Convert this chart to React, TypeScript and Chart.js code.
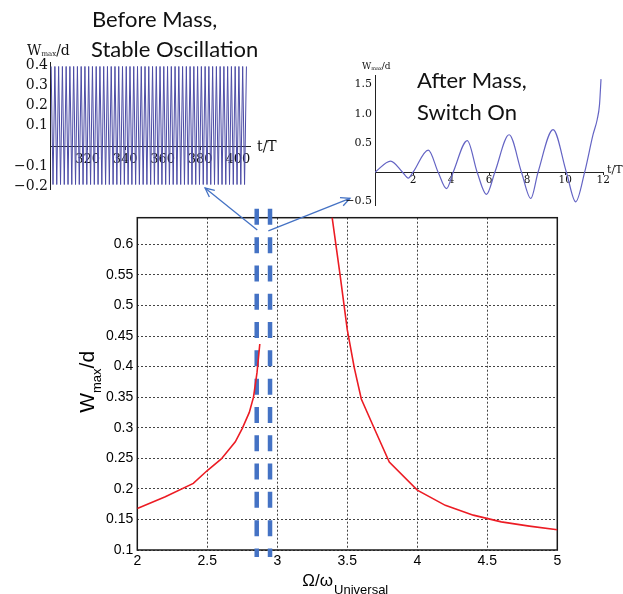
import { useEffect, useRef } from "react";
import { Chart, registerables } from "chart.js";

Chart.register(...registerables);

// ---------------- main chart: W_max/d vs Omega/omega ----------------
const leftBranchX = [2.0, 2.2, 2.4, 2.5, 2.6, 2.7, 2.75, 2.8, 2.83, 2.855, 2.875];
const leftBranchY = [0.168, 0.187, 0.209, 0.23, 0.249, 0.277, 0.299, 0.325, 0.35, 0.39, 0.437];
const rightBranchX = [3.37, 3.45, 3.5, 3.55, 3.6, 3.7, 3.8, 4.0, 4.2, 4.4, 4.6, 4.8, 5.0];
const rightBranchY = [0.68, 0.547, 0.46, 0.398, 0.347, 0.295, 0.244, 0.198, 0.173, 0.157, 0.146, 0.139, 0.133];
const markerX = [2.853, 2.948];
const markerYRange = [0.658, 0.0886];
const mainXTicks = [2, 2.5, 3, 3.5, 4, 4.5, 5];
const mainXLabels = ["2", "2.5", "3", "3.5", "4", "4.5", "5"];
const mainYTicks = [0.1, 0.15, 0.2, 0.25, 0.3, 0.35, 0.4, 0.45, 0.5, 0.55, 0.6];
const mainYLabels = ["0.1", "0.15", "0.2", "0.25", "0.3", "0.35", "0.4", "0.45", "0.5", "0.55", "0.6"];
const arrowFromX = [2.857, 2.936];
const arrowFromY = [0.6235, 0.622];
const arrowToX = [2.484, 3.519];
const arrowToY = [0.692, 0.6752];

// ---------------- inset 1: before mass, stable oscillation ----------------
const beforeT = [
  300.6, 301.6, 302.6, 303.6, 304.6, 305.6, 306.6, 307.6, 308.6, 309.6,
  310.6, 311.6, 312.6, 313.6, 314.6, 315.6, 316.6, 317.6, 318.6, 319.6,
  320.6, 321.6, 322.6, 323.6, 324.6, 325.6, 326.6, 327.6, 328.6, 329.6,
  330.6, 331.6, 332.6, 333.6, 334.6, 335.6, 336.6, 337.6, 338.6, 339.6,
  340.6, 341.6, 342.6, 343.6, 344.6, 345.6, 346.6, 347.6, 348.6, 349.6,
  350.6, 351.6, 352.6, 353.6, 354.6, 355.6, 356.6, 357.6, 358.6, 359.6,
  360.6, 361.6, 362.6, 363.6, 364.6, 365.6, 366.6, 367.6, 368.6, 369.6,
  370.6, 371.6, 372.6, 373.6, 374.6, 375.6, 376.6, 377.6, 378.6, 379.6,
  380.6, 381.6, 382.6, 383.6, 384.6, 385.6, 386.6, 387.6, 388.6, 389.6,
  390.6, 391.6, 392.6, 393.6, 394.6, 395.6, 396.6, 397.6, 398.6, 399.6,
  400.6, 401.6, 402.6, 403.6, 404.6,
];
const beforeW = [
  0.393, -0.19, 0.393, -0.19, 0.393, -0.19, 0.393, -0.19, 0.393, -0.19,
  0.393, -0.19, 0.393, -0.19, 0.393, -0.19, 0.393, -0.19, 0.393, -0.19,
  0.393, -0.19, 0.393, -0.19, 0.393, -0.19, 0.393, -0.19, 0.393, -0.19,
  0.393, -0.19, 0.393, -0.19, 0.393, -0.19, 0.393, -0.19, 0.393, -0.19,
  0.393, -0.19, 0.393, -0.19, 0.393, -0.19, 0.393, -0.19, 0.393, -0.19,
  0.393, -0.19, 0.393, -0.19, 0.393, -0.19, 0.393, -0.19, 0.393, -0.19,
  0.393, -0.19, 0.393, -0.19, 0.393, -0.19, 0.393, -0.19, 0.393, -0.19,
  0.393, -0.19, 0.393, -0.19, 0.393, -0.19, 0.393, -0.19, 0.393, -0.19,
  0.393, -0.19, 0.393, -0.19, 0.393, -0.19, 0.393, -0.19, 0.393, -0.19,
  0.393, -0.19, 0.393, -0.19, 0.393, -0.19, 0.393, -0.19, 0.393, -0.19,
  0.393, -0.19, 0.393, -0.19, 0.393,
];
const beforeXTicks = [300, 320, 340, 360, 380, 400];
const beforeXLabels = ["", "320", "340", "360", "380", "400"];
const beforeYTicks = [-0.2, -0.1, 0, 0.1, 0.2, 0.3, 0.4];
const beforeYLabels = ["\u22120.2", "\u22120.1", "", "0.1", "0.2", "0.3", "0.4"];

// ---------------- inset 2: after mass, switch on ----------------
const afterT = [0, 0.82, 1.45, 1.75, 2.0, 2.8, 3.32, 3.76, 4.11, 4.85, 5.37, 5.86, 6.3, 7.05, 7.7, 8.19, 8.57, 9.36, 10.06, 10.55, 11.02, 11.46, 11.68, 11.8, 11.88];
const afterW = [0, 0.19, 0, -0.1, 0, 0.378, 0, -0.28, 0, 0.54, 0, -0.378, 0, 0.64, 0, -0.448, 0, 0.727, 0, -0.506, 0, 0.64, 0.9, 1.15, 1.59];
const afterXTicks = [0, 2, 4, 6, 8, 10, 12];
const afterXLabels = ["", "2", "4", "6", "8", "10", "12"];
const afterYTicks = [-0.5, 0, 0.5, 1.0, 1.5];
const afterYLabels = ["\u22120.5", "", "0.5", "1.0", "1.5"];

const SANS = '"Liberation Sans", Arial, sans-serif';
const SERIF = '"DejaVu Serif", "Liberation Serif", serif';
const TITLE = 'Lato, "Open Sans", sans-serif';
const RED = "#ec1c24";
const BLUE = "#4472c4";

const pts = (xs: number[], ys: number[]) => xs.map((x, i) => ({ x, y: ys[i] }));
const setTicks = (vals: number[]) => (s: any) => {
  s.ticks = vals.map((v) => ({ value: v }));
};

function drawArrow(ctx: CanvasRenderingContext2D, x1: number, y1: number, x2: number, y2: number) {
  ctx.beginPath();
  ctx.moveTo(x1, y1);
  ctx.lineTo(x2, y2);
  ctx.stroke();
  const ang = Math.atan2(y2 - y1, x2 - x1);
  const L = 10;
  const A = 0.45;
  ctx.beginPath();
  ctx.moveTo(x2 - L * Math.cos(ang - A), y2 - L * Math.sin(ang - A));
  ctx.lineTo(x2, y2);
  ctx.lineTo(x2 - L * Math.cos(ang + A), y2 - L * Math.sin(ang + A));
  ctx.stroke();
}

const mainDecor = {
  id: "mainDecor",
  beforeDatasetsDraw(chart: any) {
    const { ctx, chartArea: a } = chart;
    ctx.save();
    ctx.setLineDash([]);
    ctx.strokeStyle = "#1a1a1a";
    ctx.lineWidth = 1.5;
    ctx.strokeRect(a.left, a.top, a.right - a.left, a.bottom - a.top);
    ctx.restore();
  },
  afterDraw(chart: any) {
    const { ctx, chartArea: a } = chart;
    const xs = chart.scales.x;
    const ys = chart.scales.y;
    ctx.save();
    ctx.setLineDash([]);
    ctx.strokeStyle = BLUE;
    ctx.lineWidth = 1.3;
    for (let i = 0; i < arrowFromX.length; i++) {
      drawArrow(
        ctx,
        xs.getPixelForValue(arrowFromX[i]),
        ys.getPixelForValue(arrowFromY[i]),
        xs.getPixelForValue(arrowToX[i]),
        ys.getPixelForValue(arrowToY[i])
      );
    }
    // x-axis title  Ω/ω_Universal
    ctx.fillStyle = "#000";
    ctx.textAlign = "left";
    ctx.textBaseline = "alphabetic";
    ctx.font = `17px ${SANS}`;
    const m1 = "\u03A9/\u03C9";
    const w1 = ctx.measureText(m1).width;
    ctx.font = `13px ${SANS}`;
    const m2 = "Universal";
    const w2 = ctx.measureText(m2).width;
    const cx = (a.left + a.right) / 2 - 2;
    const sx = cx - (w1 + 1 + w2) / 2;
    ctx.font = `17px ${SANS}`;
    ctx.fillText(m1, sx, 586);
    ctx.font = `13px ${SANS}`;
    ctx.fillText(m2, sx + w1 + 1, 594);
    // y-axis title  W_max/d
    ctx.font = `21px ${SANS}`;
    const wW = ctx.measureText("W").width;
    const wD = ctx.measureText("/d").width;
    ctx.font = `13px ${SANS}`;
    const wM = ctx.measureText("max").width;
    const total = wW + wM + wD;
    const cy = (a.top + a.bottom) / 2 - 2;
    ctx.translate(93.5, cy + total / 2);
    ctx.rotate(-Math.PI / 2);
    ctx.font = `21px ${SANS}`;
    ctx.fillText("W", 0, 0);
    ctx.font = `13px ${SANS}`;
    ctx.fillText("max", wW, 7.5);
    ctx.font = `21px ${SANS}`;
    ctx.fillText("/d", wW + wM, 0);
    ctx.restore();
  },
};

function drawWLabel(ctx: CanvasRenderingContext2D, x: number, y: number, big: number, small: number) {
  ctx.font = `${big}px ${SERIF}`;
  ctx.fillText("W", x, y);
  const a = ctx.measureText("W").width;
  ctx.font = `${small}px ${SERIF}`;
  ctx.fillText("max", x + a, y + small * 0.25);
  const b = ctx.measureText("max").width;
  ctx.font = `${big}px ${SERIF}`;
  ctx.fillText("/d", x + a + b, y);
}

const beforeDecor = {
  id: "beforeDecor",
  afterDraw(chart: any) {
    const { ctx } = chart;
    ctx.save();
    ctx.fillStyle = "#111";
    ctx.textAlign = "left";
    ctx.textBaseline = "alphabetic";
    ctx.font = `22px ${TITLE}`;
    ctx.fillText("Before Mass,", 92, 27.3);
    ctx.fillText("Stable Oscillation", 91, 57.3);
    drawWLabel(ctx, 27, 54.5, 14, 7);
    ctx.font = `14px ${SERIF}`;
    ctx.textBaseline = "middle";
    ctx.fillText("t/T", 257, 147);
    ctx.restore();
  },
};

const afterDecor = {
  id: "afterDecor",
  afterDraw(chart: any) {
    const { ctx } = chart;
    ctx.save();
    ctx.fillStyle = "#111";
    ctx.textAlign = "left";
    ctx.textBaseline = "alphabetic";
    ctx.font = `22px ${TITLE}`;
    ctx.fillText("After Mass,", 77, 48.3);
    ctx.fillText("Switch On", 77, 80);
    drawWLabel(ctx, 22, 29, 9, 5);
    ctx.font = `11px ${SERIF}`;
    ctx.textBaseline = "middle";
    ctx.fillText("t/T", 267, 130);
    ctx.restore();
  },
};

function mainConfig(): any {
  return {
    type: "line",
    data: {
      datasets: [
        { data: pts(leftBranchX, leftBranchY), borderColor: RED, borderWidth: 1.6, pointRadius: 0, tension: 0 },
        { data: pts(rightBranchX, rightBranchY), borderColor: RED, borderWidth: 1.6, pointRadius: 0, tension: 0 },
        ...markerX.map((mx) => ({
          data: [
            { x: mx, y: markerYRange[0] },
            { x: mx, y: markerYRange[1] },
          ],
          borderColor: BLUE,
          borderWidth: 4.5,
          borderDash: [16, 12.3],
          borderCapStyle: "butt",
          pointRadius: 0,
          clip: false,
        })),
      ],
    },
    options: {
      animation: false,
      responsive: false,
      devicePixelRatio: 1,
      layout: { padding: { top: 217.7, right: 65.7, left: 0, bottom: 0 } },
      plugins: { legend: { display: false }, tooltip: { enabled: false }, title: { display: false } },
      scales: {
        x: {
          type: "linear",
          min: 2,
          max: 5,
          afterBuildTicks: setTicks(mainXTicks),
          afterFit: (s: any) => {
            s.height = 44;
          },
          grid: { color: "#444", lineWidth: 1, drawTicks: false },
          border: { display: false, dash: [2, 2] },
          ticks: {
            padding: 3,
            color: "#000",
            font: { family: SANS, size: 14 },
            maxRotation: 0,
            autoSkip: false,
            callback: (_v: any, i: number) => mainXLabels[i] ?? "",
          },
        },
        y: {
          type: "linear",
          min: 0.1,
          max: 0.6435,
          afterBuildTicks: setTicks(mainYTicks),
          afterFit: (s: any) => {
            s.width = 137.3;
          },
          grid: { color: "#444", lineWidth: 1, drawTicks: false },
          border: { display: false, dash: [2, 2] },
          ticks: {
            padding: 4,
            color: "#000",
            font: { family: SANS, size: 14 },
            autoSkip: false,
            callback: (_v: any, i: number) => mainYLabels[i] ?? "",
          },
        },
      },
    },
    plugins: [mainDecor],
  };
}

function beforeConfig(): any {
  return {
    type: "line",
    data: {
      datasets: [
        { data: pts(beforeT, beforeW), borderColor: "#4c4ca6", borderWidth: 1, pointRadius: 0, tension: 0 },
      ],
    },
    options: {
      animation: false,
      responsive: false,
      devicePixelRatio: 1,
      layout: { padding: { top: 62, right: 50, left: 0, bottom: 8 } },
      plugins: { legend: { display: false }, tooltip: { enabled: false } },
      scales: {
        x: {
          type: "linear",
          min: 300,
          max: 406.5,
          position: { y: 0 },
          afterBuildTicks: setTicks(beforeXTicks),
          grid: { display: true, drawOnChartArea: false, drawTicks: true, tickLength: 3, color: "#222" },
          border: { display: true, color: "#222", width: 1 },
          ticks: {
            padding: 3,
            color: "#111",
            font: { family: SERIF, size: 13 },
            maxRotation: 0,
            autoSkip: false,
            callback: (_v: any, i: number) => beforeXLabels[i] ?? "",
          },
        },
        y: {
          type: "linear",
          min: -0.215,
          max: 0.415,
          afterBuildTicks: setTicks(beforeYTicks),
          afterFit: (s: any) => {
            s.width = 50;
          },
          grid: { display: true, drawOnChartArea: false, drawTicks: false, color: "#222" },
          border: { display: true, color: "#222", width: 1 },
          ticks: {
            padding: 2,
            color: "#111",
            font: { family: SERIF, size: 14 },
            autoSkip: false,
            callback: (_v: any, i: number) => beforeYLabels[i] ?? "",
          },
        },
      },
    },
    plugins: [beforeDecor],
  };
}

function afterConfig(): any {
  return {
    type: "line",
    data: {
      datasets: [
        {
          data: pts(afterT, afterW),
          borderColor: "#6464c4",
          borderWidth: 1.2,
          pointRadius: 0,
          cubicInterpolationMode: "monotone",
        },
      ],
    },
    options: {
      animation: false,
      responsive: false,
      devicePixelRatio: 1,
      layout: { padding: { top: 35, right: 19.7, left: 0, bottom: 15 } },
      plugins: { legend: { display: false }, tooltip: { enabled: false } },
      scales: {
        x: {
          type: "linear",
          min: 0,
          max: 12,
          position: { y: 0 },
          afterBuildTicks: setTicks(afterXTicks),
          grid: { display: true, drawOnChartArea: false, drawTicks: true, tickLength: 2, color: "#222" },
          border: { display: true, color: "#222", width: 1 },
          ticks: {
            padding: 0,
            color: "#111",
            font: { family: SERIF, size: 10.5 },
            maxRotation: 0,
            autoSkip: false,
            callback: (_v: any, i: number) => afterXLabels[i] ?? "",
          },
        },
        y: {
          type: "linear",
          min: -0.56,
          max: 1.66,
          afterBuildTicks: setTicks(afterYTicks),
          afterFit: (s: any) => {
            s.width = 35;
          },
          grid: { display: true, drawOnChartArea: false, drawTicks: false, color: "#222" },
          border: { display: true, color: "#222", width: 1 },
          ticks: {
            padding: 3,
            color: "#111",
            font: { family: SERIF, size: 11 },
            autoSkip: false,
            callback: (_v: any, i: number) => afterYLabels[i] ?? "",
          },
        },
      },
    },
    plugins: [afterDecor],
  };
}

export default function App() {
  const mainRef = useRef<HTMLCanvasElement>(null);
  const beforeRef = useRef<HTMLCanvasElement>(null);
  const afterRef = useRef<HTMLCanvasElement>(null);

  useEffect(() => {
    const charts = [
      new Chart(mainRef.current as HTMLCanvasElement, mainConfig()),
      new Chart(beforeRef.current as HTMLCanvasElement, beforeConfig()),
      new Chart(afterRef.current as HTMLCanvasElement, afterConfig()),
    ];
    return () => {
      charts.forEach((c) => c.destroy());
    };
  }, []);

  return (
    <div
      style={{
        position: "absolute",
        left: 0,
        top: 0,
        width: 623,
        height: 594,
        background: "#fff",
        overflow: "hidden",
      }}
    >
      <canvas
        ref={mainRef}
        width={623}
        height={594}
        style={{ position: "absolute", left: 0, top: 0, width: 623, height: 594 }}
      />
      <canvas
        ref={beforeRef}
        width={300}
        height={200}
        style={{ position: "absolute", left: 0, top: 0, width: 300, height: 200 }}
      />
      <canvas
        ref={afterRef}
        width={283}
        height={180}
        style={{ position: "absolute", left: 340, top: 40, width: 283, height: 180 }}
      />
    </div>
  );
}
